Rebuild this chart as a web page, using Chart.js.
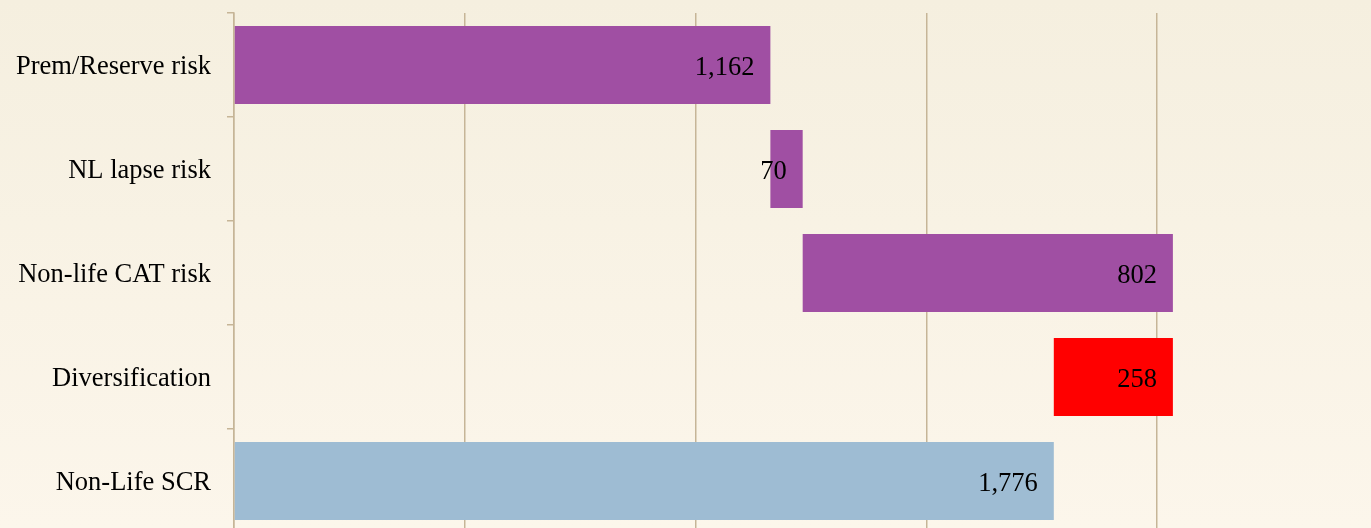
<!DOCTYPE html>
<html>
<head>
<meta charset="utf-8">
<script src="https://cdn.jsdelivr.net/npm/chart.js@4/dist/chart.umd.min.js"></script>
<style>
    html, body {
        margin: 0;
        padding: 0;
        overflow: hidden;
        width: 1371px;
        height: 528px;
        background: linear-gradient(to bottom, #f5efdf 0%, #fcf6eb 100%);
    }
    #wrap {
        position: relative;
        width: 1388px;
        height: 533px;
    }
</style>
</head>
<body>
<div id="wrap"><canvas id="scrChart"></canvas></div>
<script>
const categories = ['Prem/Reserve risk', 'NL lapse risk', 'Non-life CAT risk', 'Diversification', 'Non-Life SCR'];
const values = [1162, 70, 802, 258, 1776];
const bases = [0, 1162, 1232, 1776, 0];
const barColors = ['#a04fa3', '#a04fa3', '#a04fa3', '#ff0000', '#9ebcd3'];
const xMax = 2500;
const xStep = 500;

const gridColor = '#c6b597';
const fontFamily = '"Liberation Serif", "Times New Roman", serif';

// 棒の端の内側に値を表示する
const valueLabels = {
    id: 'valueLabels',
    afterDatasetsDraw(chart) {
        const ctx = chart.ctx;
        const meta = chart.getDatasetMeta(0);
        ctx.save();
        ctx.font = '26.5px ' + fontFamily;
        ctx.fillStyle = '#000';
        ctx.textAlign = 'right';
        ctx.textBaseline = 'middle';
        meta.data.forEach((bar, i) => {
            ctx.fillText(values[i].toLocaleString('en-US'), bar.x - 16, bar.y + 3);
        });
        ctx.restore();
    }
};

const ctx = document.getElementById('scrChart').getContext('2d');
new Chart(ctx, {
    type: 'bar',
    data: {
        labels: categories,
        datasets: [{
            data: values.map((v, i) => [bases[i], bases[i] + v]),
            backgroundColor: barColors,
            borderWidth: 0,
            barPercentage: 0.75,
            categoryPercentage: 1
        }]
    },
    options: {
        indexAxis: 'y',
        responsive: true,
        maintainAspectRatio: false,
        animation: false,
        layout: { padding: { top: 13, left: 0, right: 0, bottom: 0 } },
        plugins: {
            legend: { display: false },
            tooltip: { enabled: false }
        },
        scales: {
            x: {
                min: 0,
                max: xMax,
                ticks: { display: false, stepSize: xStep },
                grid: { color: gridColor, lineWidth: 1.5, drawTicks: false },
                border: { display: false },
                afterFit(scale) {
                    scale.height = 0;
                    scale.paddingLeft = 0;
                    scale.paddingRight = 0;
                }
            },
            y: {
                ticks: {
                    color: '#000',
                    padding: 16,
                    labelOffset: 2,
                    font: { family: fontFamily, size: 26.5 }
                },
                grid: {
                    color: gridColor,
                    lineWidth: 1.5,
                    drawOnChartArea: false,
                    tickLength: 7
                },
                border: { color: gridColor, width: 1.5 },
                afterFit(scale) {
                    scale.width = 234;
                    scale.paddingTop = 0;
                    scale.paddingBottom = 0;
                }
            }
        }
    },
    plugins: [valueLabels]
});
</script>
</body>
</html>
